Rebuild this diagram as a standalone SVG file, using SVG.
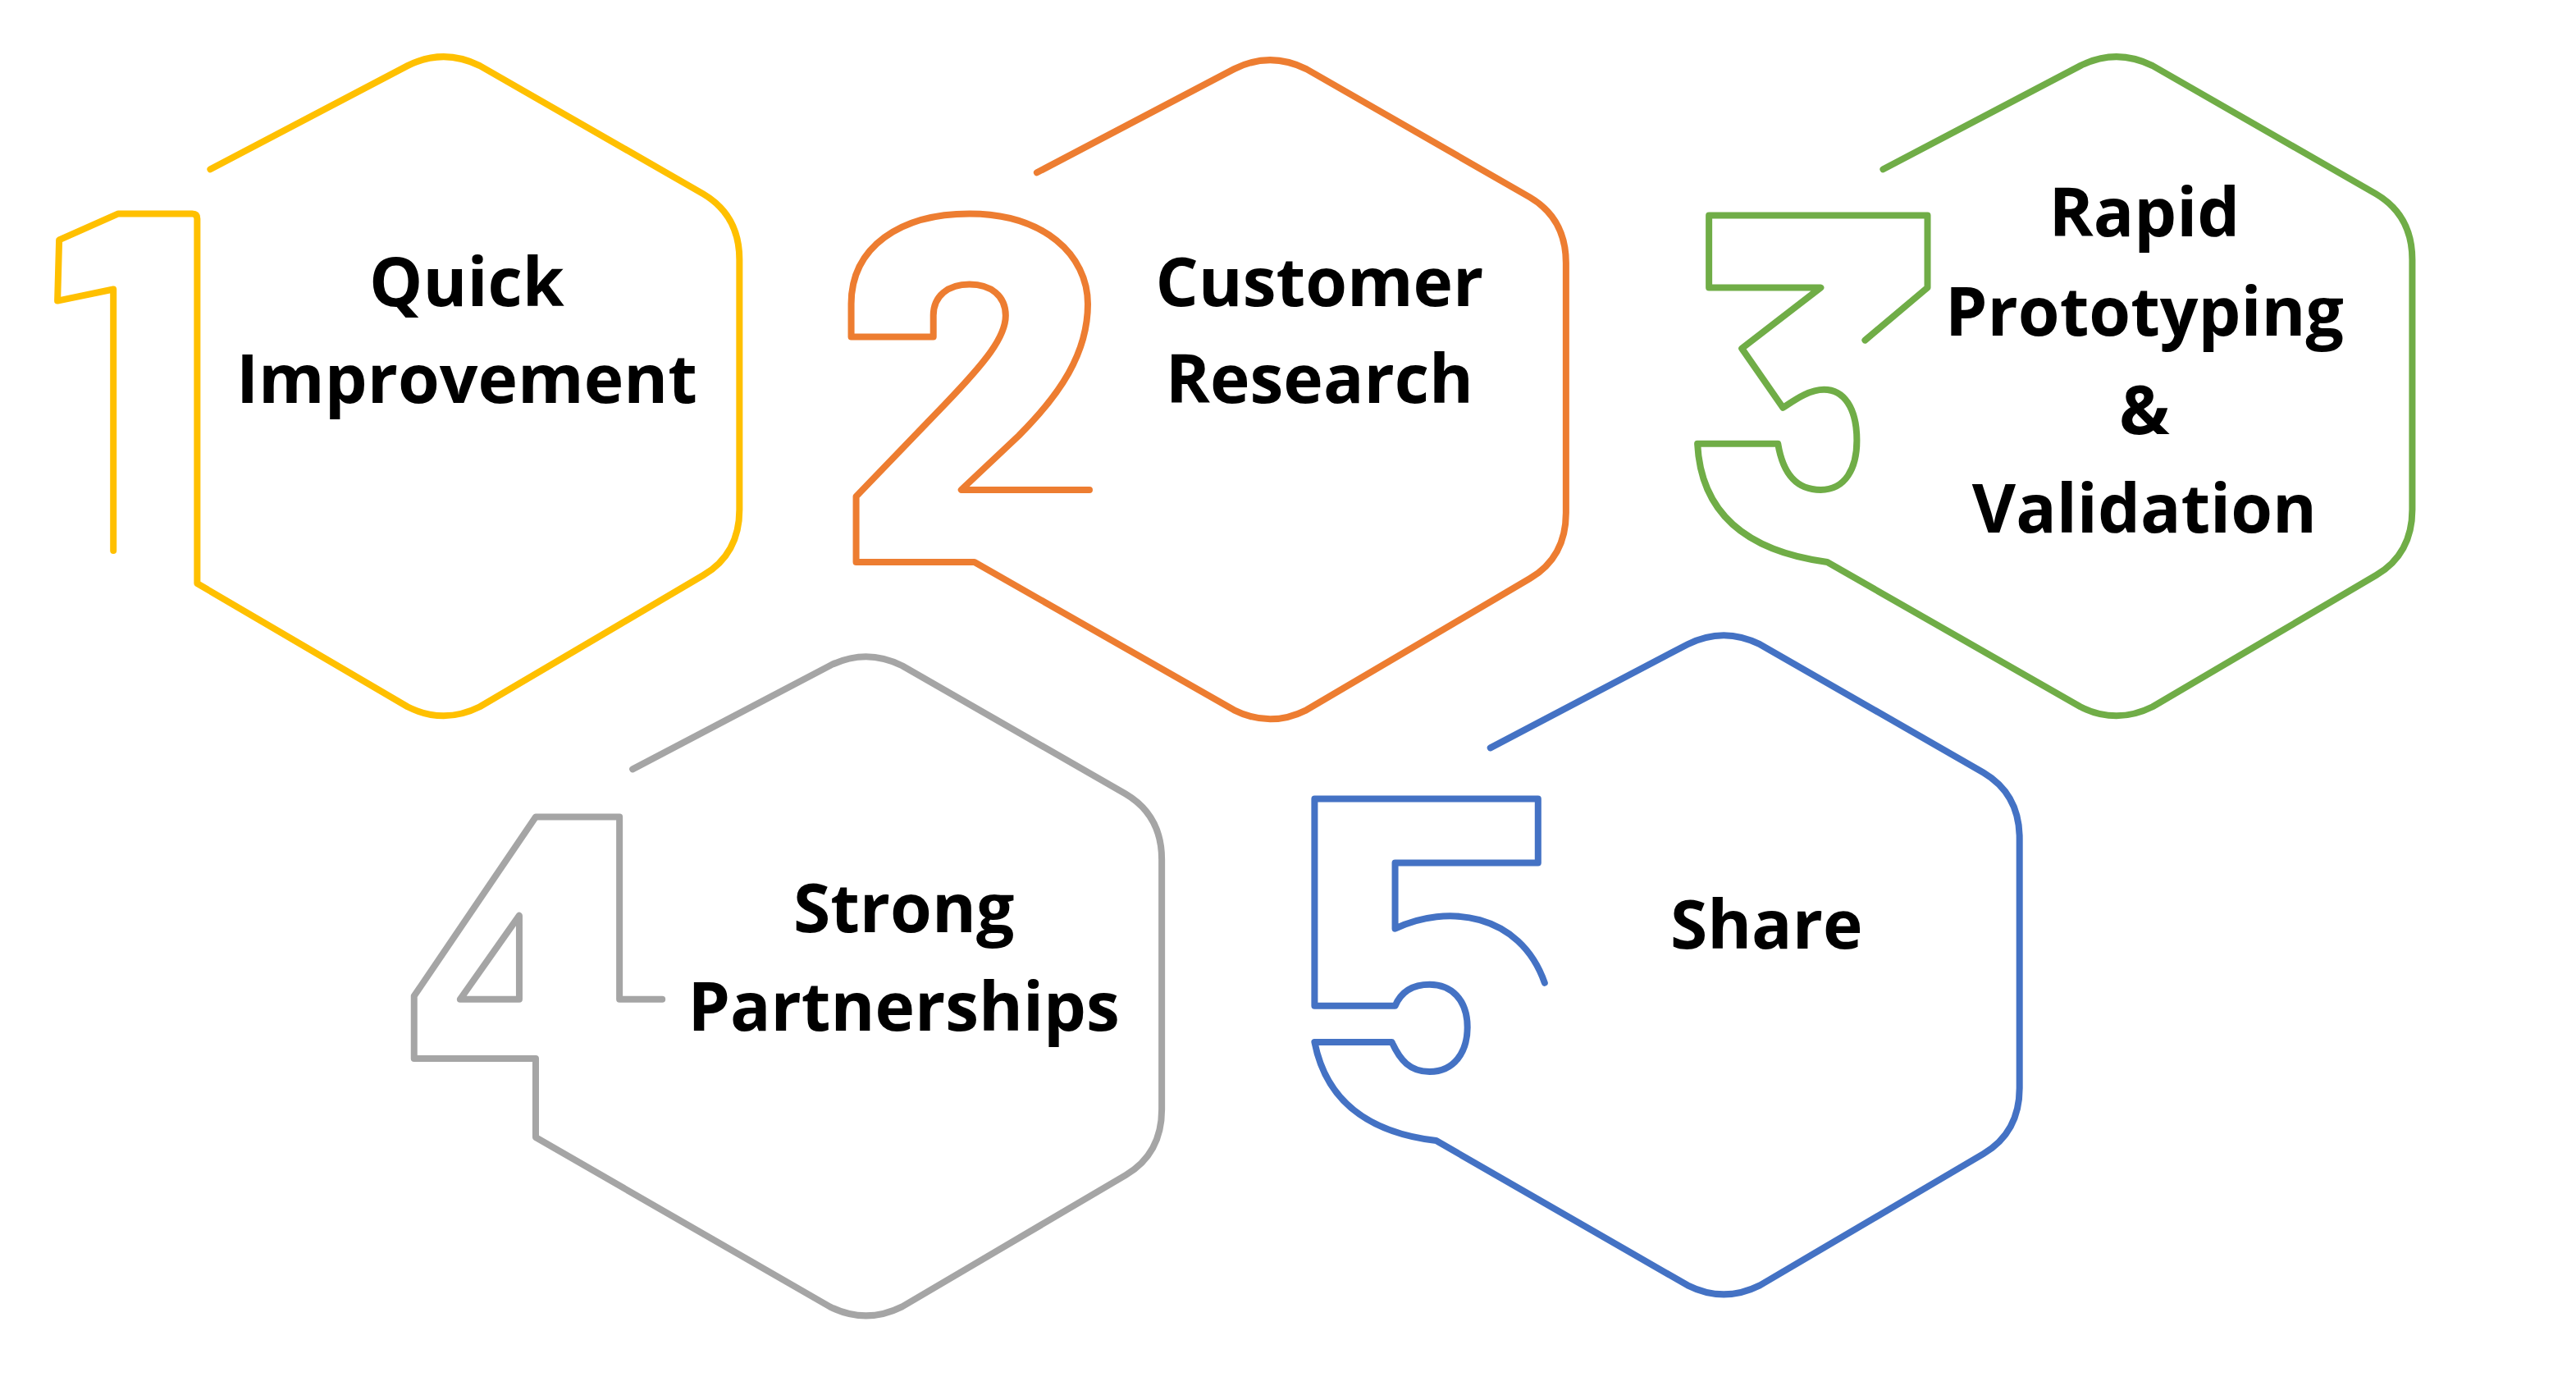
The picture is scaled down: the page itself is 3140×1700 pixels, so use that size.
<svg xmlns="http://www.w3.org/2000/svg" width="3140" height="1700" viewBox="0 0 3140 1700">
<style>
.h{fill:none;stroke-width:4;stroke-linecap:round;stroke-linejoin:round}
.t{font-family:"Open Sans","Liberation Sans",sans-serif;font-weight:700;font-size:41px;fill:#000;text-anchor:middle}
</style>
<rect width="3140" height="1700" fill="#fff"/>
<g transform="scale(2.003)">
<g id="node1">
<path class="h" stroke="#FFC000" d="M128,103 L248,40 Q270,29 292,40 L428,118 Q450,131 450,158 V310 Q450,337 428,350 L292,430 Q270,441 248,430 L120,355 V133 Q120,130 117,130 H72 L36,146 L35,183 L69,176 V335"/>
<text class="t" x="284" y="186">Quick</text>
<text class="t" x="284" y="245">Improvement</text>
</g>
<g id="node2">
<path class="h" stroke="#ED7D31" d="M631,105 L751,42 Q773,31 795,42 L931,120 Q953,133 953,160 V312 Q953,339 931,352 L795,432 Q773,443 751,432 L593,342 H521 V302 L575,246 C600,220 612,205 612,192 C612,180 603,173 590,173 C577,173 568,180 568,192 V205 H518 V185 C518,150 548,130 590,130 C635,130 662,155 662,185 C662,215 645,240 620,265 L585,298 H663"/>
<text class="t" x="803" y="186">Customer</text>
<text class="t" x="803" y="245">Research</text>
</g>
<g id="node3">
<path class="h" stroke="#70AD47" d="M1146,103 L1266,40 Q1288,29 1310,40 L1446,118 Q1468,131 1468,158 V310 Q1468,337 1446,350 L1310,430 Q1288,441 1266,430 L1112,342 C1060,335 1035,310 1033,270 H1082 C1085,288 1093,298 1108,298 C1123,298 1130,285 1130,268 C1130,248 1122,237 1110,237 C1100,237 1090,245 1085,248 L1060,212 L1108,175 H1040 V131 H1173 V175 L1135,207"/>
<text class="t" x="1305" y="144">Rapid</text>
<text class="t" x="1305" y="204">Prototyping</text>
<text class="t" x="1305" y="264">&amp;</text>
<text class="t" x="1305" y="324">Validation</text>
</g>
<g id="node4">
<path class="h" stroke="#A5A5A5" d="M385,468 L505,405 Q527,394 549,405 L685,483 Q707,496 707,523 V675 Q707,702 685,715 L549,795 Q527,806 505,795 L326,692 V644 H252 V606 L326,497 H377 V608 H403"/>
<path class="h" stroke="#A5A5A5" d="M280,608 L316,557 V608 Z"/>
<text class="t" x="550" y="567">Strong</text>
<text class="t" x="550" y="627">Partnerships</text>
</g>
<g id="node5">
<path class="h" stroke="#4472C4" d="M907,455 L1027,392 Q1049,381 1071,392 L1207,470 Q1229,483 1229,510 V662 Q1229,689 1207,702 L1071,782 Q1049,793 1027,782 L874,694 C840,690 808,675 800,634 H847 C852,645 858,652 870,652 C885,652 893,640 893,625 C893,608 883,599 870,599 C858,599 852,605 849,612 H800 V486 H936 V525 H849 V565 C880,550 925,555 940,598"/>
<text class="t" x="1075" y="577">Share</text>
</g>
<g id="connectors"/>
</g>
</svg>
